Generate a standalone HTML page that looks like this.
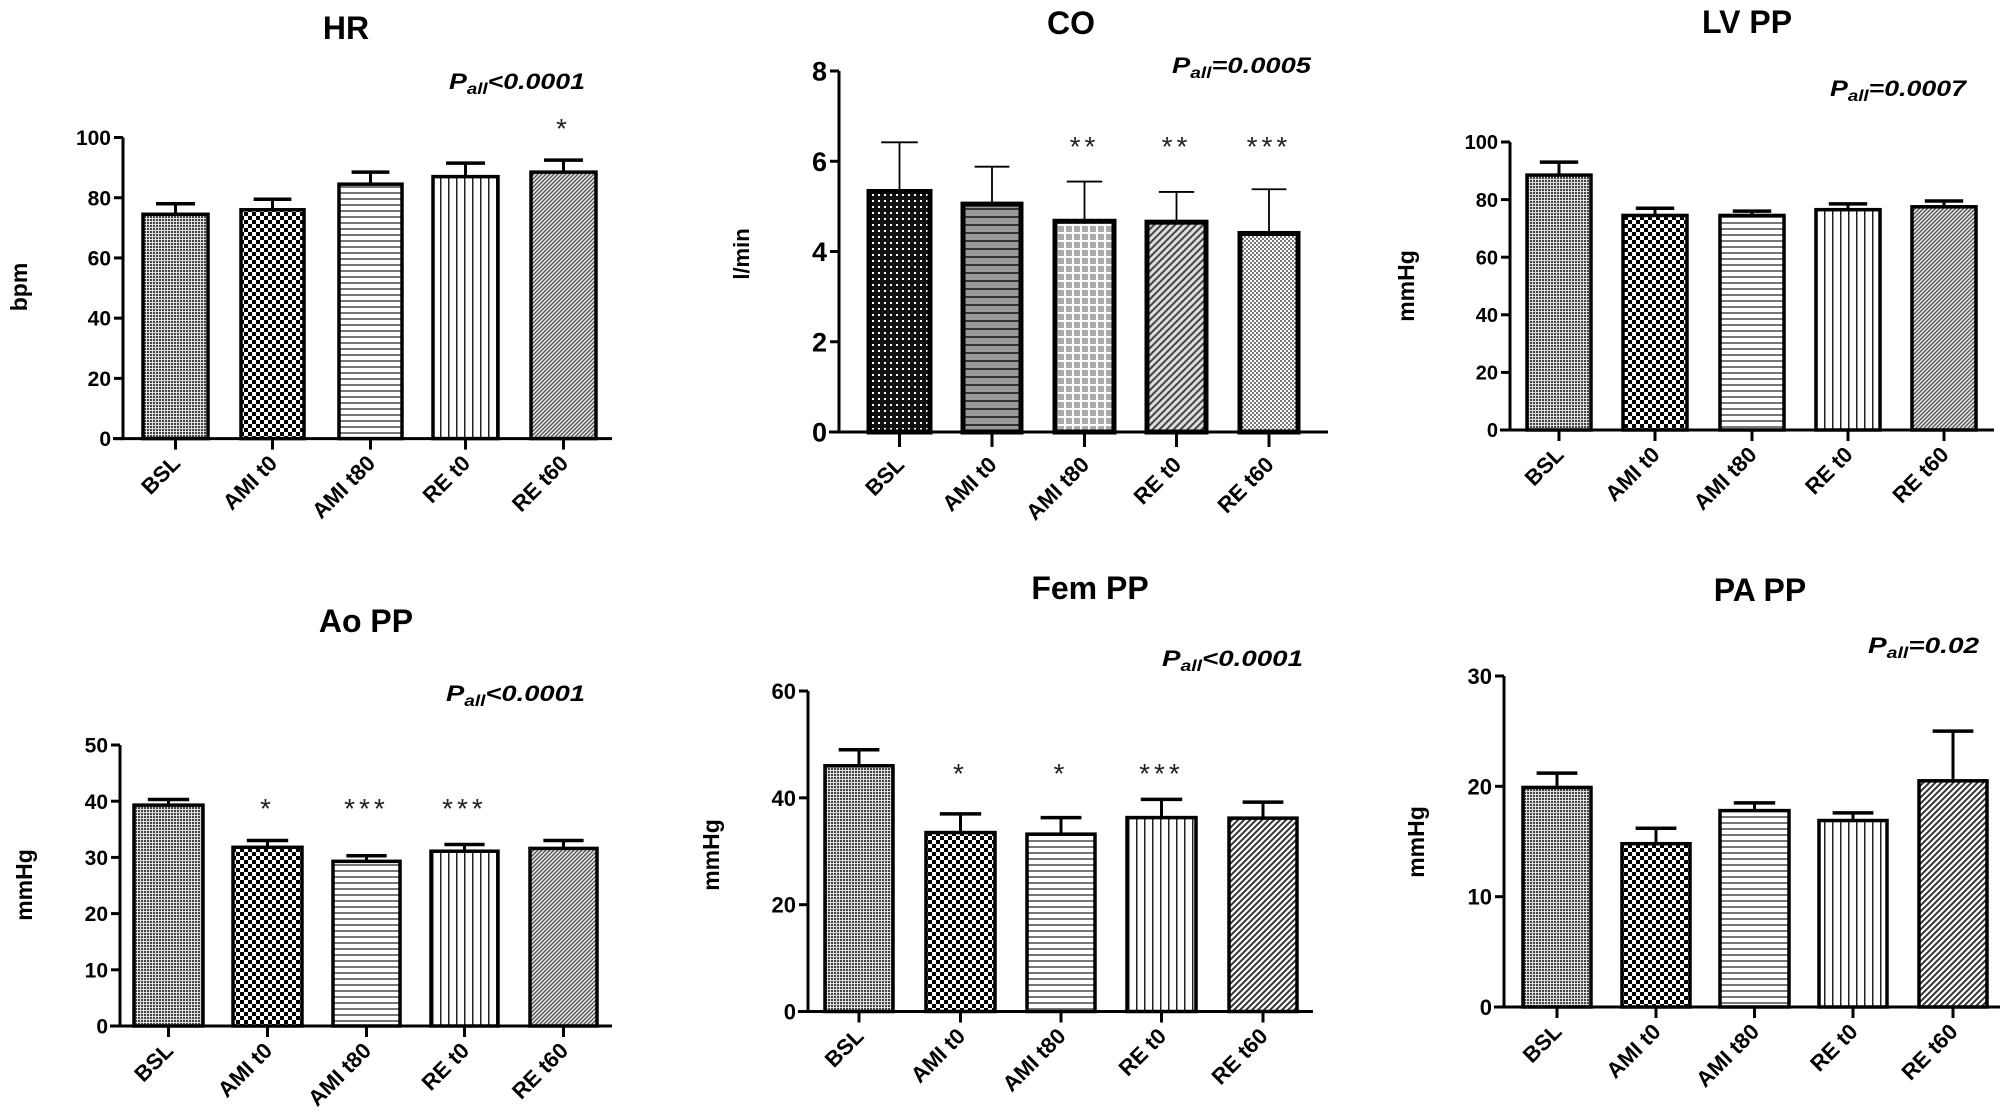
<!DOCTYPE html>
<html><head><meta charset="utf-8"><style>
html,body{margin:0;padding:0;background:#fff;}
svg{display:block;}
text{font-family:"Liberation Sans",Arial,sans-serif;}
</style></head><body>
<svg id="s" width="2008" height="1113" viewBox="0 0 2008 1113" xmlns="http://www.w3.org/2000/svg">
<defs>
<pattern id="dots" width="3" height="3" patternUnits="userSpaceOnUse"><rect width="3" height="3" fill="#ddd"/><rect width="2" height="2" fill="#444"/></pattern>
<pattern id="check" width="8" height="8" patternUnits="userSpaceOnUse"><rect width="8" height="8" fill="#fff"/><rect width="4" height="4" fill="#000"/><rect x="4" y="4" width="4" height="4" fill="#000"/></pattern>
<pattern id="hl" width="6" height="6" patternUnits="userSpaceOnUse"><rect width="6" height="6" fill="#fff"/><rect y="0" width="6" height="2" fill="#777"/></pattern>
<pattern id="vl" width="8" height="8" patternUnits="userSpaceOnUse"><rect width="8" height="8" fill="#fff"/><rect x="0" width="1.5" height="8" fill="#222"/></pattern>
<pattern id="dg" width="4" height="4" patternUnits="userSpaceOnUse"><rect width="4" height="4" fill="#eee"/><path d="M0,4 L4,0 M-1,1 L1,-1 M3,5 L5,3" stroke="#555" stroke-width="1.4"/></pattern>
<pattern id="dg2" width="6" height="6" patternUnits="userSpaceOnUse"><rect width="6" height="6" fill="#fff"/><path d="M0,6 L6,0 M-1,1 L1,-1 M5,7 L7,5" stroke="#333" stroke-width="2"/></pattern>
<pattern id="cbsl" width="6" height="6" patternUnits="userSpaceOnUse"><rect width="6" height="6" fill="#111"/><rect x="2" y="2" width="2" height="2" fill="#fff"/></pattern>
<pattern id="chl" width="8" height="8" patternUnits="userSpaceOnUse"><rect width="8" height="8" fill="#999"/><rect width="8" height="2" fill="#333"/></pattern>
<pattern id="cgrid" width="8" height="8" patternUnits="userSpaceOnUse"><rect width="8" height="8" fill="#aaa"/><rect width="8" height="2" fill="#fff"/><rect width="2" height="8" fill="#fff"/></pattern>
<pattern id="cdg" width="7" height="7" patternUnits="userSpaceOnUse"><rect width="7" height="7" fill="#ddd"/><path d="M0,7 L7,0 M-1,1 L1,-1 M6,8 L8,6" stroke="#444" stroke-width="2"/></pattern>
<pattern id="cchk" width="4" height="4" patternUnits="userSpaceOnUse"><rect width="4" height="4" fill="#fff"/><rect width="2" height="2" fill="#777"/><rect x="2" y="2" width="2" height="2" fill="#777"/></pattern>
</defs>
<g id="g"></g>
</svg>
<script>
var NS="http://www.w3.org/2000/svg",G=document.getElementById("g");
function el(t,a,txt){var e=document.createElementNS(NS,t);for(var k in a)e.setAttribute(k,a[k]);if(txt!==undefined)e.textContent=txt;G.appendChild(e);return e;}
var labs=["BSL","AMI t0","AMI t80","RE t0","RE t60"];
function panel(p){
 var ys=function(v){return p.y0-(p.y0-p.yt)*v/p.max;};
 el("text",{x:p.tx,y:p.ty,"text-anchor":"middle","font-size":p.tfs||32,"font-weight":"bold"},p.title);
 var t=el("text",{x:p.px,y:p.py,"font-size":p.pfs||22,"font-weight":"bold","font-style":"italic",textLength:p.pw,lengthAdjust:"spacingAndGlyphs"});
 var a=document.createElementNS(NS,"tspan");a.textContent="P";t.appendChild(a);
 var b=document.createElementNS(NS,"tspan");b.setAttribute("font-size",(p.pfs||22)*0.7);b.setAttribute("dy","5");b.textContent="all";t.appendChild(b);
 var c=document.createElementNS(NS,"tspan");c.setAttribute("dy","-5");c.textContent=p.pt;t.appendChild(c);
 el("text",{transform:"translate("+p.lx+","+p.ly+") rotate(-90)","text-anchor":"middle","font-size":p.lfs||23,"font-weight":"bold"},p.ylab);
 var sw=p.sw||3.5;
 for(var i=0;i<5;i++){
  var x1=p.bars[i][0],x2=p.bars[i][1],cx=(x1+x2)/2,v=p.v[i],e=p.e[i];
  var yv=ys(v),ye=ys(e),cw=(x2-x1)*0.3;
  el("line",{x1:cx,y1:yv,x2:cx,y2:ye,stroke:"#000","stroke-width":p.ew||3});
  el("line",{x1:cx-cw,y1:ye,x2:cx+cw,y2:ye,stroke:"#000","stroke-width":p.ew||3.5});
  el("rect",{x:x1,y:yv,width:x2-x1,height:p.y0-yv,fill:"url(#"+p.pat[i]+")",stroke:"#000","stroke-width":sw});
  el("line",{x1:cx,y1:p.y0,x2:cx,y2:p.y0+(p.tl||11),stroke:"#000","stroke-width":3});
  el("text",{transform:"translate("+(cx+6)+","+(p.y0+(p.lo||26))+") rotate(-45)","text-anchor":"end","font-size":p.xfs||22,"font-weight":"bold"},labs[i]);
  if(p.st&&p.st[i]) el("text",{x:cx,y:p.sy+11,"text-anchor":"middle","font-size":28,fill:"#222","letter-spacing":"4"},p.st[i]);
 }
 el("line",{x1:p.ax,y1:p.yt,x2:p.ax,y2:p.y0+1.5,stroke:"#000","stroke-width":3});
 el("line",{x1:p.ax-10,y1:p.y0,x2:p.ae,y2:p.y0,stroke:"#000","stroke-width":3});
 for(var k=0;k<p.ticks.length;k++){var tv=p.ticks[k],ty=ys(tv);
  el("line",{x1:p.ax-9,y1:ty,x2:p.ax,y2:ty,stroke:"#000","stroke-width":3});
  el("text",{x:p.ax-12,y:ty+(p.yfs||21)*0.36,"text-anchor":"end","font-size":p.yfs||21,"font-weight":"bold"},tv);}
}
var P1=["dots","check","hl","vl","dg"];
panel({title:"HR",tx:346,ty:39,px:449,py:89,pw:136,pt:"<0.0001",ylab:"bpm",lx:27,ly:287,ax:123,yt:137.5,y0:438.6,ae:612,max:100,ticks:[0,20,40,60,80,100],
 bars:[[143,208],[241,304],[339,402],[433,498],[531,596]],v:[74.5,76,84.5,87,88.5],e:[78,79.5,88.5,91.5,92.5],pat:P1,st:[0,0,0,0,"*"],sy:127});
panel({title:"CO",tx:1071,ty:34,px:1172,py:73,pw:139,pt:"=0.0005",ylab:"l/min",lfs:22,lx:749,ly:254,ax:839,yt:71,y0:432,ae:1328,max:8,ticks:[0,2,4,6,8],yfs:27,
 bars:[[869,930],[963,1021],[1055,1114],[1147,1206],[1240,1298]],v:[5.33,5.05,4.67,4.65,4.4],e:[6.42,5.88,5.55,5.32,5.38],pat:["cbsl","chl","cgrid","cdg","cchk"],sw:5,ew:1.8,tl:15,lo:34,st:[0,0,"**","**","***"],sy:145});
panel({title:"LV PP",tx:1747,ty:33,px:1830,py:96,pw:136,pt:"=0.0007",ylab:"mmHg",lx:1414,ly:286,ax:1510,yt:142,y0:430,ae:1994,max:100,ticks:[0,20,40,60,80,100],yfs:20,
 bars:[[1527,1591],[1623,1687],[1720,1784],[1816,1880],[1912,1976]],v:[88.5,74.5,74.5,76.5,77.5],e:[93,77,76,78.5,79.5],pat:["dots","check","hl","vl","dg"]});
panel({title:"Ao PP",tx:366,ty:632,px:446,py:701,pw:139,pt:"<0.0001",ylab:"mmHg",lx:32,ly:885,ax:120,yt:745,y0:1026,ae:612,max:50,ticks:[0,10,20,30,40,50],
 bars:[[134,203],[233,302],[333,400],[431,498],[530,597]],v:[39.3,31.8,29.3,31.1,31.6],e:[40.3,33,30.3,32.3,33],pat:["dots","check","hl","vl","dg"],st:[0,"*","***","***",0],sy:807});
panel({title:"Fem PP",tx:1090,ty:599,px:1162,py:666,pw:141,pt:"<0.0001",ylab:"mmHg",lx:719,ly:855,ax:808,yt:691,y0:1011.5,ae:1313,max:60,ticks:[0,20,40,60],yfs:22,
 bars:[[825,893],[926,995],[1027,1095],[1127,1196],[1229,1297]],v:[46,33.5,33.2,36.3,36.2],e:[49,37,36.3,39.7,39.2],pat:["dots","check","hl","vl","dg2"],st:[0,"*","*","***",0],sy:772});
panel({title:"PA PP",tx:1760,ty:601,px:1868,py:653,pw:111,pt:"=0.02",ylab:"mmHg",lx:1424,ly:842,ax:1504,yt:676,y0:1007,ae:2000,max:30,ticks:[0,10,20,30],yfs:22,
 bars:[[1523,1591],[1622,1690],[1720,1789],[1819,1887],[1919,1987]],v:[19.9,14.8,17.8,16.9,20.5],e:[21.2,16.2,18.5,17.6,25],pat:["dots","check","hl","vl","dg2"]});
</script>
</body></html>
